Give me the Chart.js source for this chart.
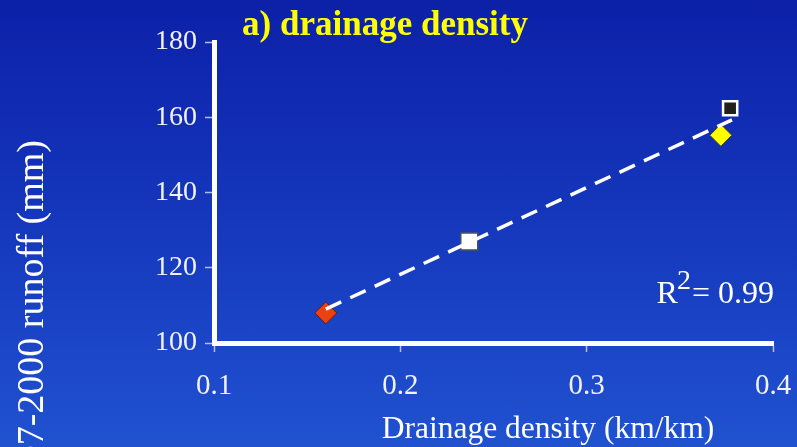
<!DOCTYPE html>
<html>
<head>
<meta charset="utf-8">
<script src="https://cdn.jsdelivr.net/npm/chart.js@4.4.1/dist/chart.umd.min.js"></script>
<style>
  html, body { margin: 0; padding: 0; width: 797px; height: 447px; overflow: hidden;
    background: linear-gradient(to bottom, rgb(12,32,168) 0%, rgb(22,58,190) 55%, rgb(32,82,208) 100%); }
  #wrap { position: relative; width: 797px; height: 447px; }
</style>
</head>
<body>
<div id="wrap"><canvas id="c" width="797" height="447"></canvas></div>
<script>
// ---- data ----
const drainageDensity = [0.160, 0.237, 0.372, 0.377];      // km/km
const runoff          = [108.0, 127.0, 155.2, 162.4];      // mm, 1997-2000
const trendX          = [0.160, 0.378];
const trendY          = [109.0, 159.3];
const xTicks          = [0.1, 0.2, 0.3, 0.4];
const yTicks          = [100, 120, 140, 160, 180];
const chartTitle      = 'a) drainage density';
const xTitle          = 'Drainage density (km/km)';
const yTitle          = '1997-2000 runoff (mm)';
const r2Text          = '0.99';

// ---- styles ----
const pointStyles  = ['rectRot', 'rect', 'rectRot', 'rect'];
const pointFills   = ['#ea4310', '#ffffff', '#ffff00', '#231f1a'];
const pointBorders = ['#6a1e08', '#4a5060', '#4a4400', '#ffffff'];
const pointBorderW = [1, 1.5, 1, 2.5];
const pointRadii   = [11, 12, 11, 10];

const serif = '"Liberation Serif", "Times New Roman", serif';

const textPlugin = {
  id: 'texts',
  afterDraw(chart) {
    const ctx = chart.ctx;
    ctx.save();
    // title
    ctx.fillStyle = '#ffff00';
    ctx.font = 'bold 35px ' + serif;
    ctx.textAlign = 'center';
    ctx.textBaseline = 'alphabetic';
    ctx.fillText(chartTitle, 385, 35);
    // x title
    ctx.fillStyle = '#ffffff';
    ctx.font = '31.5px ' + serif;
    ctx.textAlign = 'center';
    ctx.fillText(xTitle, 548, 438);
    // y title (rotated)
    ctx.save();
    ctx.translate(43, 140);
    ctx.rotate(-Math.PI / 2);
    ctx.textAlign = 'right';
    ctx.font = '38px ' + serif;
    ctx.fillText(yTitle, 0, 0);
    ctx.restore();
    // R^2 label
    ctx.font = '32px ' + serif;
    ctx.textAlign = 'left';
    const rest = '= ' + r2Text;
    const wRest = ctx.measureText(rest).width;
    const wR = ctx.measureText('R').width;
    ctx.font = '28px ' + serif;
    const w2 = ctx.measureText('2').width;
    const endX = 774, base = 303;
    let x = endX - wRest - w2 - wR;
    ctx.font = '32px ' + serif;
    ctx.fillText('R', x, base);
    x += wR - 1;
    ctx.font = '28px ' + serif;
    ctx.fillText('2', x, base - 14);
    x += w2 + 1;
    ctx.font = '32px ' + serif;
    ctx.fillText(rest, x, base);
    ctx.restore();
  }
};

const tickColor = '#b4bcf0';

new Chart(document.getElementById('c'), {
  type: 'scatter',
  data: {
    datasets: [
      {
        type: 'line',
        label: 'trend',
        data: trendX.map((v, i) => ({ x: v, y: trendY[i] })),
        borderColor: '#ffffff',
        borderWidth: 3.5,
        borderDash: [17, 10],
        pointRadius: 0,
        fill: false,
        order: 0
      },
      {
        label: 'sites',
        data: drainageDensity.map((v, i) => ({ x: v, y: runoff[i] })),
        pointStyle: pointStyles,
        backgroundColor: pointFills,
        borderColor: pointBorders,
        borderWidth: pointBorderW,
        pointRadius: pointRadii,
        pointHoverRadius: pointRadii,
        order: 1
      }
    ]
  },
  options: {
    responsive: false,
    animation: false,
    devicePixelRatio: 1,
    layout: { padding: { left: 0, top: 42, right: 24, bottom: 0 } },
    plugins: { legend: { display: false }, tooltip: { enabled: false }, title: { display: false } },
    scales: {
      x: {
        type: 'linear',
        min: 0.1, max: 0.4,
        afterBuildTicks: s => { s.ticks = xTicks.map(v => ({ value: v })); },
        afterFit: s => { s.height = 104; s.paddingLeft = 0; s.paddingRight = 0; },
        border: { display: true, color: '#ffffff', width: 5 },
        grid: { display: true, drawOnChartArea: false, drawTicks: true, tickLength: 9, tickColor: tickColor, tickWidth: 1.5 },
        ticks: { color: '#f2f2fa', font: { family: serif, size: 29 }, padding: 17, maxRotation: 0,
                 callback: v => v.toFixed(1) }
      },
      y: {
        type: 'linear',
        min: 100, max: 180,
        afterBuildTicks: s => { s.ticks = yTicks.map(v => ({ value: v })); },
        afterFit: s => { s.width = 214; s.paddingTop = 0; s.paddingBottom = 0; },
        border: { display: true, color: '#ffffff', width: 5 },
        grid: { display: true, drawOnChartArea: false, drawTicks: true, tickLength: 9, tickColor: tickColor, tickWidth: 1.5 },
        ticks: { color: '#f2f2fa', font: { family: serif, size: 28 }, padding: 8,
                 callback: v => String(v) }
      }
    }
  },
  plugins: [textPlugin]
});
</script>
</body>
</html>
